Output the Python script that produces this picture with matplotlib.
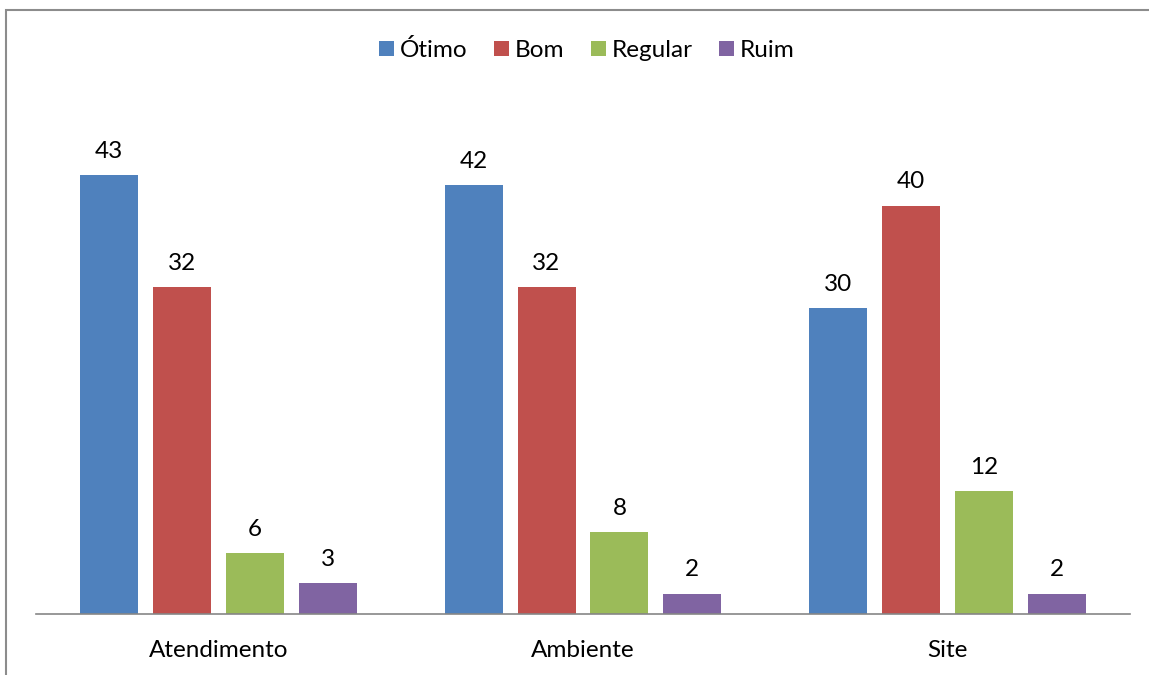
import numpy as np
from matplotlib import pyplot as plt
from matplotlib.patches import Rectangle

categories = ['Atendimento', 'Ambiente', 'Site']
series_names = ['Ótimo', 'Bom', 'Regular', 'Ruim']
otimo = [43, 42, 30]
bom = [32, 32, 40]
regular = [6, 8, 12]
ruim = [3, 2, 2]
colors = ['#4F81BD', '#C0504D', '#9BBB59', '#8064A2']

plt.rcParams['font.family'] = ['Lato', 'DejaVu Sans']
fs = 17.5

W, H = 1149, 675
fig = plt.figure(figsize=(W / 100, H / 100), dpi=100)
ax = fig.add_axes([36 / W, (H - 614) / H, 1094 / W, 510.5 / H])

x = np.arange(len(categories))
width = 0.159
offsets = [-0.3, -0.1, 0.1, 0.3]
for vals, name, col, off in zip([otimo, bom, regular, ruim], series_names, colors, offsets):
    bars = ax.bar(x + off, vals, width, color=col, label=name, zorder=2)
    for b, v in zip(bars, vals):
        ax.annotate(str(v), (b.get_x() + b.get_width() / 2, v), xytext=(0, 9.5),
                    textcoords='offset points', ha='center', va='bottom', fontsize=fs)

ax.set_xlim(-0.5, 2.5)
ax.set_ylim(0, 50)
ax.set_xticks(x)
ax.set_xticklabels(categories, fontsize=fs)
ax.tick_params(axis='x', length=0, pad=19)
ax.set_yticks([])
for s in ['top', 'right', 'left']:
    ax.spines[s].set_visible(False)
ax.spines['bottom'].set_color('#868686')
ax.spines['bottom'].set_linewidth(1.2)

fig.legend(loc='center', bbox_to_anchor=(587 / W, 1 - 50 / H), ncol=4, frameon=False,
           fontsize=fs, handlelength=0.6, handleheight=0.6, handletextpad=0.25, columnspacing=1.1)

fig.patches.append(Rectangle((6 / W, -0.1), 1.2, 1.1 - 10 / H, transform=fig.transFigure,
                             fill=False, edgecolor='#8c8c8c', linewidth=1.5))

plt.savefig('out.png', dpi=100)
